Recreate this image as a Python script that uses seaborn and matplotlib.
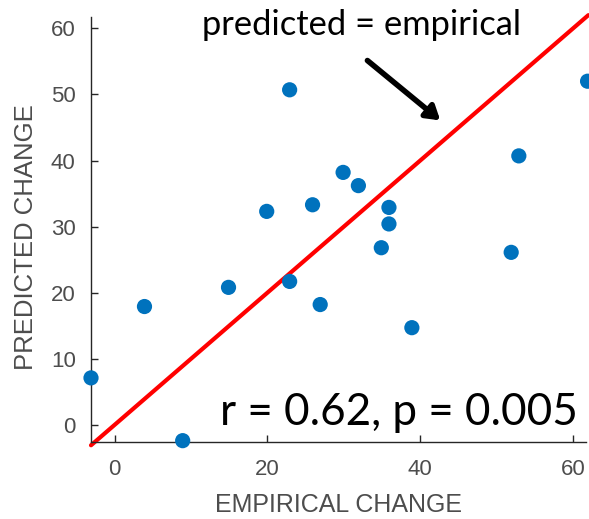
import numpy as np
import pandas as pd
import matplotlib.pyplot as plt
import seaborn as sns

# empirical vs predicted change
empirical = [-3.1, 3.9, 8.9, 14.9, 19.9, 22.9, 22.9, 25.9, 26.9, 29.9, 31.9, 35.9, 35.9, 34.9, 38.9, 51.9, 52.9, 61.9]
predicted = [7.1, 17.9, -2.4, 20.8, 32.3, 50.7, 21.7, 33.3, 18.2, 38.2, 36.2, 32.9, 30.4, 26.8, 14.7, 26.1, 40.7, 52.0]
x_ticks = [0, 20, 40, 60]
y_ticks = [0, 10, 20, 30, 40, 50, 60]

df = pd.DataFrame({'empirical': empirical, 'predicted': predicted})

sns.set_style('ticks')
plt.rcParams['font.family'] = ['Liberation Sans', 'DejaVu Sans']

fig = plt.figure(figsize=(5.89, 5.19), dpi=100)
ax = fig.add_axes([0.1545, 0.1484, 0.8405, 0.8186])

# identity line
lims = [-3.1, 62]
ax.plot(lims, lims, color='#ff0000', linewidth=3, zorder=1, clip_on=False)

sns.scatterplot(data=df, x='empirical', y='predicted', ax=ax, color='#0072bd',
                s=120, edgecolor='none', zorder=3, clip_on=False)

ax.set_xlim(-3.1, 61.7)
ax.set_ylim(-2.6, 61.7)
ax.set_xticks(x_ticks)
ax.set_yticks(y_ticks)
ax.tick_params(direction='in', length=5, width=1, colors='#262626',
               labelcolor='#4d4d4d', labelsize=16)
ax.tick_params(axis='x', pad=12)
ax.tick_params(axis='y', pad=11)
for side in ['top', 'right']:
    ax.spines[side].set_visible(False)
for side in ['left', 'bottom']:
    ax.spines[side].set_color('#262626')
    ax.spines[side].set_linewidth(1)

ax.set_xlabel('EMPIRICAL CHANGE', fontsize=18, color='#4d4d4d')
ax.set_ylabel('PREDICTED CHANGE', fontsize=18.5, color='#4d4d4d')
ax.xaxis.set_label_coords(0.5, -0.12)
ax.yaxis.set_label_coords(-0.108, 0.482)

ax.text(0.547, 0.958, 'predicted = empirical', transform=ax.transAxes,
        fontsize=24.8, family=['Lato', 'DejaVu Sans'], color='black',
        ha='center', va='baseline')
ax.annotate('', xy=(42.9, 45.8), xytext=(32.8, 55.4),
            arrowprops=dict(arrowstyle='-|>,head_width=0.5,head_length=0.8',
                            color='black', lw=4))
ax.text(0.984, 0.04, 'r = 0.62, p = 0.005', transform=ax.transAxes,
        fontsize=31.7, family=['Lato', 'DejaVu Sans'], color='black',
        ha='right', va='baseline')

fig.savefig('out.png', dpi=100)
